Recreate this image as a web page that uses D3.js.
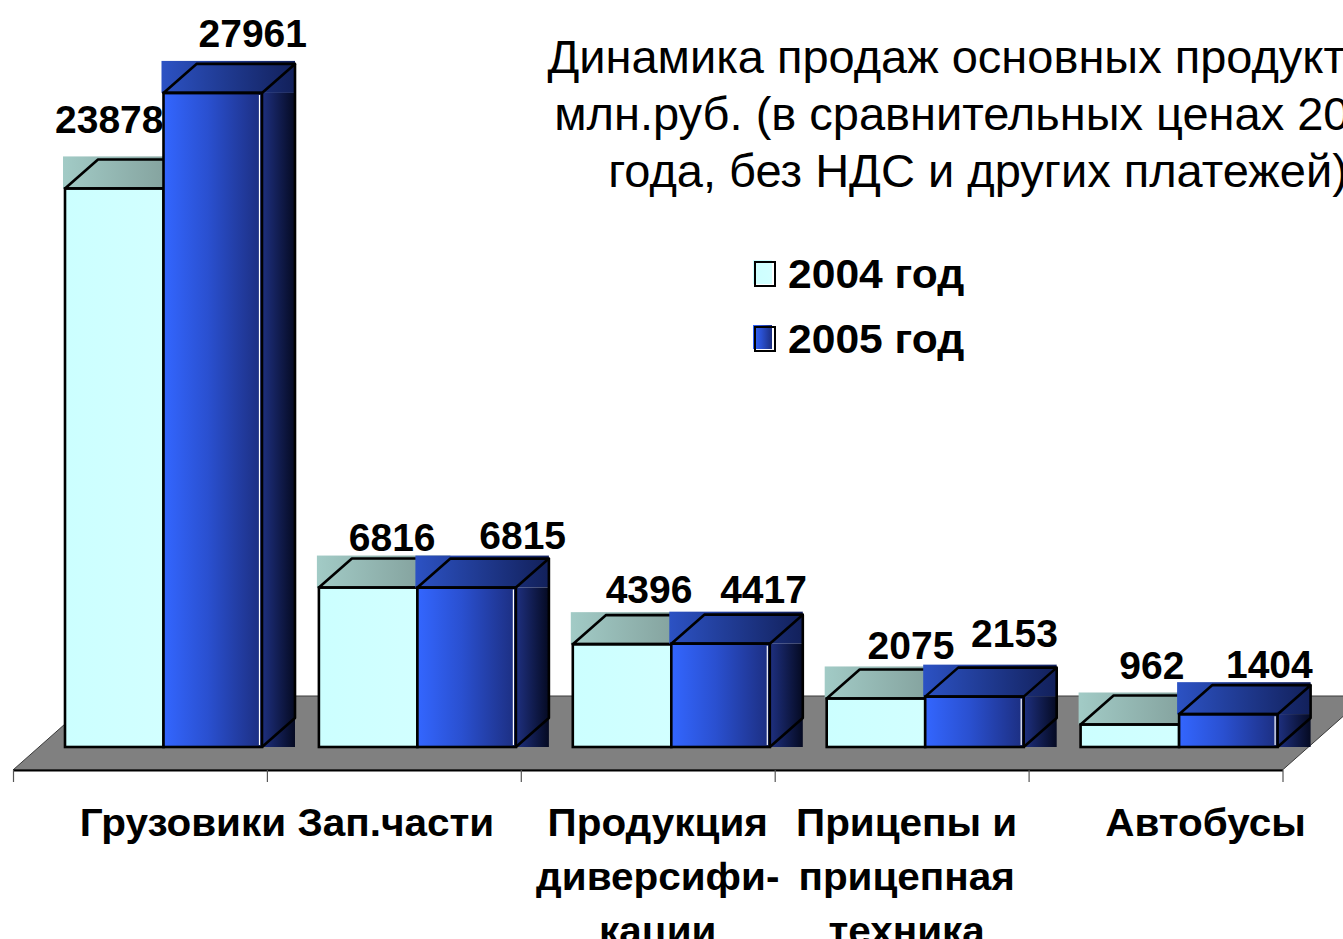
<!DOCTYPE html>
<html><head><meta charset="utf-8">
<script src="https://cdn.jsdelivr.net/npm/d3@7/dist/d3.min.js"></script>
<style>
body{margin:0;background:#fff;overflow:hidden;}
svg{display:block;}
text{font-family:"Liberation Sans",Arial,Helvetica,sans-serif;}
</style>
</head><body>
<svg id="chart" width="1343" height="939"></svg>
<script>
// ---------------- data ----------------
const categories = ["Грузовики", "Зап.части", "Продукция\nдиверсифи-\nкации", "Прицепы и\nприцепная\nтехника", "Автобусы"];
const series = ["2004 год", "2005 год"];
const values2004 = [23878, 6816, 4396, 2075, 962];
const values2005 = [27961, 6815, 4417, 2153, 1404];
const titleLines = ["Динамика продаж основных продуктов,", "млн.руб. (в сравнительных ценах 2005", "года, без НДС и других платежей)"];

// ---------------- layout ----------------
const W = 1343, H = 939;
const DX = 33, DY = 29;           // 3D depth offset
const floorFrontY = 770, floorBackY = 696, floorSlope = 1.13;
const labelNudgeX = [[-40, -11, -8, 0, -13], [5, 21, 8, 5, 6]];
const labelNudgeY = [[-14, 4, 0, 2, -4], [-5, 2, 0, -9, 5]];
const catLabelShift = [43, 2, 10, 5, 50];
const textStretch = 1.065;

const svg = d3.select("#chart");
const defs = svg.append("defs");
function grad(id, stops) {
  const g = defs.append("linearGradient").attr("id", id).attr("x1", "0%").attr("x2", "100%").attr("y1", "0%").attr("y2", "0%");
  stops.forEach(([o, c]) => g.append("stop").attr("offset", o).attr("stop-color", c));
}
grad("front0", [["0%", "#CCFFFF"], ["100%", "#D2FFFF"]]);
grad("top0", [["0%", "#A2CBC6"], ["100%", "#7C9793"]]);
grad("side0", [["0%", "#8FB0AC"], ["100%", "#5E7572"]]);
grad("front1", [["0%", "#3366FF"], ["45%", "#2A50D0"], ["100%", "#1C2E80"]]);
grad("top1", [["0%", "#2C52C4"], ["100%", "#12205A"]]);
grad("side1", [["0%", "#1E3080"], ["100%", "#050A22"]]);

const x = d3.scaleBand().domain(categories).range([13, 1282.5]).paddingInner(0).paddingOuter(0);
const xs = d3.scaleBand().domain(series).range([52, 249]);
const y = d3.scaleLinear().domain([0, 28000]).range([747, 92]);
const base = y(0);

// ---------------- floor ----------------
const fx0 = x.range()[0], fx1 = x.range()[1];
const dd = (floorFrontY - floorBackY) * floorSlope;
svg.append("path")
  .attr("d", `M${fx0},${floorFrontY}L${fx0 + dd},${floorBackY}L${fx1 + dd},${floorBackY}L${fx1},${floorFrontY}Z`)
  .attr("fill", "#808080").attr("stroke", "#3a3a3a").attr("stroke-width", 1);

// axis along floor front edge, ticks at category boundaries
const tickScale = d3.scaleLinear().domain([0, categories.length]).range(x.range());
const axis = d3.axisBottom(tickScale).tickValues(d3.range(categories.length + 1)).tickFormat("").tickSize(12).tickSizeOuter(0);
const ax = svg.append("g").attr("transform", `translate(0,${floorFrontY})`).call(axis);
ax.select(".domain").attr("stroke", "#000").attr("stroke-width", 2);
ax.selectAll(".tick line").attr("stroke", "#555").attr("stroke-width", 1.2);

// ---------------- bars ----------------
const valuesBySeries = [values2004, values2005];
categories.forEach((c, i) => {
  series.forEach((s, j) => {
    const v = valuesBySeries[j][i];
    const x0 = x(c) + xs(s), w = xs.bandwidth(), yt = y(v);
    const g = svg.append("g");
    g.append("rect").attr("x", x0 - 2).attr("y", yt - DY - 3).attr("width", w + DX + 2).attr("height", DY + 3).attr("fill", `url(#top${j})`);
    g.append("rect").attr("x", x0 + w).attr("y", yt).attr("width", DX).attr("height", base - yt).attr("fill", `url(#side${j})`);
    g.append("rect").attr("x", x0).attr("y", yt).attr("width", w).attr("height", base - yt)
      .attr("fill", `url(#front${j})`).attr("stroke", "#000").attr("stroke-width", 2.6);
    if (j === 1) {
      g.append("line").attr("x1", x0 + w - 2.5).attr("x2", x0 + w - 2.5).attr("y1", yt + 2).attr("y2", base - 2)
        .attr("stroke", "#ffffff").attr("stroke-width", 1.2);
    }
    g.append("path").attr("d", `M${x0},${yt}L${x0 + DX},${yt - DY}L${x0 + w + DX},${yt - DY}L${x0 + w},${yt}Z`)
      .attr("fill", "none").attr("stroke", "#000").attr("stroke-width", 2.6).attr("stroke-linejoin", "round");
    g.append("path").attr("d", `M${x0 + w + DX},${yt - DY}L${x0 + w + DX},${base - DY}L${x0 + w},${base}`)
      .attr("fill", "none").attr("stroke", "#000").attr("stroke-width", 2.6).attr("stroke-linejoin", "round");
  });
});

// value labels (drawn last so they sit above bars)
categories.forEach((c, i) => {
  series.forEach((s, j) => {
    const v = valuesBySeries[j][i];
    const x0 = x(c) + xs(s), w = xs.bandwidth(), yt = y(v);
    svg.append("text")
      .attr("x", x0 + w / 2 + 35 + labelNudgeX[j][i])
      .attr("y", yt - DY - 12 + labelNudgeY[j][i])
      .attr("text-anchor", "middle").attr("font-weight", "bold").attr("font-size", 39)
      .attr("fill", "#000").text(v);
  });
});

// ---------------- category labels ----------------
categories.forEach((c, i) => {
  const cx = x(c) + x.bandwidth() / 2 + catLabelShift[i];
  const t = svg.append("text").attr("text-anchor", "middle").attr("font-weight", "bold").attr("font-size", 38).attr("fill", "#000")
    .attr("transform", `translate(${cx},0) scale(${textStretch},1)`);
  c.split("\n").forEach((line, k) => {
    t.append("tspan").attr("x", 0).attr("y", 836 + k * 54).text(line);
  });
});

// ---------------- title ----------------
const tt = svg.append("text").attr("text-anchor", "middle").attr("font-size", 47).attr("fill", "#000");
titleLines.forEach((l, k) => tt.append("tspan").attr("x", 978).attr("y", 73 + k * 57).text(l));

// ---------------- legend ----------------
const lg = svg.append("g").attr("transform", "translate(755,262)");
series.forEach((s, j) => {
  const gy = j * 65;
  lg.append("rect").attr("x", -2).attr("y", gy - 2).attr("width", 19).attr("height", 24).attr("fill", `url(#front${j})`);
  lg.append("rect").attr("x", 0).attr("y", gy).attr("width", 20).attr("height", 24).attr("fill", "none").attr("stroke", "#000").attr("stroke-width", 2);
  lg.append("text").attr("transform", `translate(33,${gy + 26}) scale(${textStretch},1)`).attr("x", 0).attr("y", 0)
    .attr("font-weight", "bold").attr("font-size", 40).attr("fill", "#000").text(s);
});
</script>
</body></html>
